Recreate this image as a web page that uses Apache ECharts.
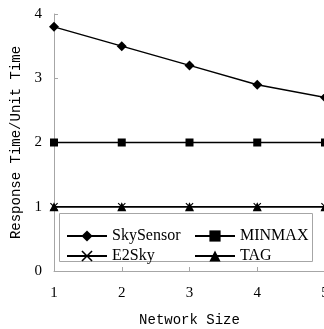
<!DOCTYPE html>
<html><head><meta charset="utf-8">
<script src="https://cdn.jsdelivr.net/npm/echarts@6/dist/echarts.min.js"></script>
<style>html,body{margin:0;padding:0;background:#fff}#c{width:324px;height:329px}</style>
</head><body><div id="c"></div>
<script>
var networkSizes = [1, 2, 3, 4, 5];
var skySensor = [3.8, 3.5, 3.2, 2.9, 2.7];
var minmax = [2, 2, 2, 2, 2];
var e2sky = [1, 1, 1, 1, 1];
var tag = [1, 1, 1, 1, 1];
var yTicks = [0, 1, 2, 3, 4];

function pairs(vals) { return networkSizes.map(function (x, i) { return [x, vals[i]]; }); }
var crossPath = 'path://M0,1L1,0L5,4L9,0L10,1L6,5L10,9L9,10L5,6L1,10L0,9L4,5Z';
var serif = 'Liberation Serif';
var mono = 'Liberation Mono';
var axisGray = '#a6a6a6';

function mk(name, vals, symbol, size) {
  return {
    name: name, type: 'line', data: pairs(vals), symbol: symbol, symbolSize: size,
    lineStyle: { color: '#000', width: 1.5 },
    itemStyle: { color: '#000' }, animation: false
  };
}

var chart = echarts.init(document.getElementById('c'));
chart.setOption({
  backgroundColor: '#fff',
  animation: false,
  grid: { left: 54, right: -1, top: 14, bottom: 58, containLabel: false, outerBoundsMode: 'none' },
  xAxis: {
    type: 'value', min: networkSizes[0], max: networkSizes[networkSizes.length - 1], interval: 1,
    name: 'Network Size', nameLocation: 'middle', nameGap: 42,
    nameTextStyle: { fontFamily: mono, fontSize: 14, color: '#000' },
    axisLine: { lineStyle: { color: axisGray, width: 1 } },
    axisTick: { inside: true, length: 4, lineStyle: { color: axisGray } },
    axisLabel: { fontFamily: serif, fontSize: 15, color: '#000', margin: 15 },
    splitLine: { show: false }
  },
  yAxis: {
    type: 'value', min: yTicks[0], max: yTicks[yTicks.length - 1], interval: 1,
    name: 'Response Time/Unit Time', nameLocation: 'middle', nameGap: 28,
    nameTextStyle: { fontFamily: mono, fontSize: 14, color: '#000' },
    axisLine: { show: true, lineStyle: { color: axisGray, width: 1 } },
    axisTick: { show: true, inside: true, length: 4, lineStyle: { color: axisGray } },
    axisLabel: { fontFamily: serif, fontSize: 15, color: '#000', margin: 12 },
    splitLine: { show: false }
  },
  graphic: [{
    type: 'rect', left: 59, top: 213, z: 1,
    shape: { width: 253, height: 48 },
    style: { fill: '#fff', stroke: axisGray, lineWidth: 1 }
  }],
  legend: [{
    data: ['SkySensor', 'E2Sky'], orient: 'vertical', left: 66, top: 228, padding: 0,
    itemWidth: 40, itemHeight: 14, itemGap: 4,
    textStyle: { fontFamily: serif, fontSize: 16, color: '#000' }
  }, {
    data: ['MINMAX', 'TAG'], orient: 'vertical', left: 194, top: 228, padding: 0,
    itemWidth: 40, itemHeight: 14, itemGap: 4,
    textStyle: { fontFamily: serif, fontSize: 16, color: '#000' }
  }],
  series: [
    mk('SkySensor', skySensor, 'diamond', 10),
    mk('MINMAX', minmax, 'rect', 8),
    mk('E2Sky', e2sky, crossPath, 8),
    mk('TAG', tag, 'triangle', 9)
  ]
});
</script></body></html>
